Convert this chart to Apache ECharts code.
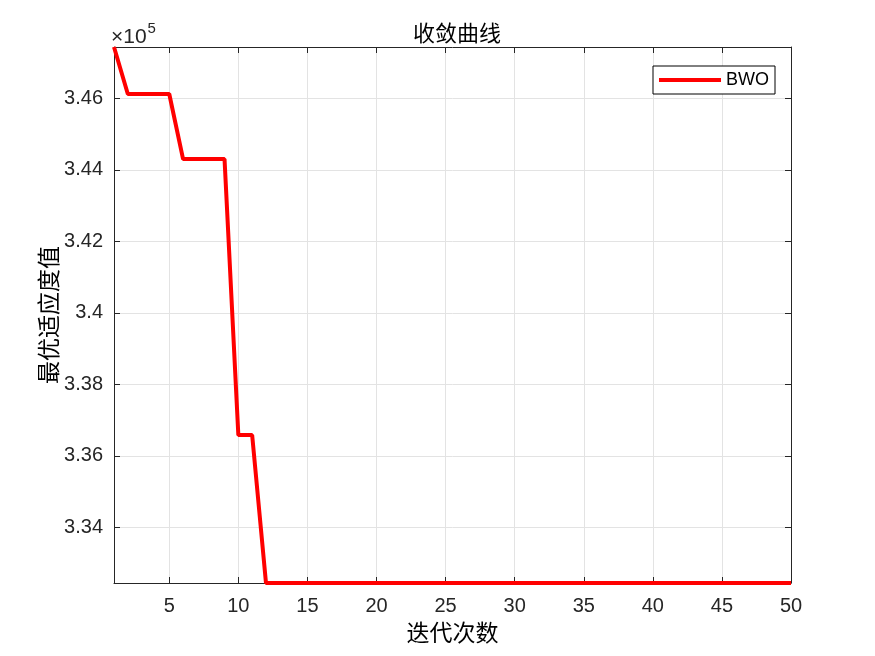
<!DOCTYPE html>
<html>
<head>
<meta charset="utf-8">
<script src="https://cdn.jsdelivr.net/npm/echarts@6/dist/echarts.min.js"></script>
<style>
html,body{margin:0;padding:0;background:#fff;}
#chart{width:875px;height:656px;}
</style>
</head>
<body>
<div id="chart"></div>
<script>
// Data
const iterations = Array.from({length: 50}, (_, i) => i + 1);
const bwoValues = [
  347435,
  346120, 346120, 346120, 346120,
  344299, 344299, 344299, 344299,
  336579, 336579,
  332442, 332442, 332442, 332442, 332442, 332442, 332442, 332442, 332442,
  332442, 332442, 332442, 332442, 332442, 332442, 332442, 332442, 332442, 332442,
  332442, 332442, 332442, 332442, 332442, 332442, 332442, 332442, 332442, 332442,
  332442, 332442, 332442, 332442, 332442, 332442, 332442, 332442, 332442, 332442
];
const xTicks = [5, 10, 15, 20, 25, 30, 35, 40, 45, 50];
const yTicks = [334000, 336000, 338000, 340000, 342000, 344000, 346000];
const titleText = '收敛曲线';
const xName = '迭代次数';
const yName = '最优适应度值';
const seriesName = 'BWO';

const axisColor = '#262626';
const gridColor = '#e3e3e3';
const cjk = '"Noto Sans CJK SC", sans-serif';
const latin = '"Liberation Sans", Arial, sans-serif';

const chart = echarts.init(document.getElementById('chart'), null, {renderer: 'canvas'});
const yMin = Math.min(...bwoValues);
const yMax = Math.max(...bwoValues);

const baseX = {
  type: 'value', min: 1, max: 50,
  axisLine: {show: true, lineStyle: {color: axisColor, width: 1}},
  axisTick: {show: true, inside: true, length: 6, customValues: xTicks, lineStyle: {color: axisColor}},
};
const baseY = {
  type: 'value', min: yMin, max: yMax,
  axisLine: {show: true, lineStyle: {color: axisColor, width: 1}},
  axisTick: {show: true, inside: true, length: 6, customValues: yTicks, lineStyle: {color: axisColor}},
};

chart.setOption({
  animation: false,
  backgroundColor: '#ffffff',
  title: {
    text: titleText, left: 452, top: 17, textAlign: 'center',
    textStyle: {fontFamily: cjk, fontSize: 22, fontWeight: 'normal', color: '#000'}
  },
  grid: {left: 114, right: 84, top: 47, bottom: 73, show: false, containLabel: false, outerBoundsMode: 'none'},
  legend: {
    data: [{name: seriesName, icon: 'rect'}], right: 100, top: 66, orient: 'vertical',
    backgroundColor: '#fff', borderColor: '#000', borderWidth: 1, borderRadius: 0,
    padding: [5, 6, 5, 6], itemWidth: 62, itemHeight: 4, itemGap: 0,
    textStyle: {fontFamily: latin, fontSize: 18, color: '#000', padding: [0, 0, 0, 0]}
  },
  xAxis: [
    Object.assign({}, baseX, {
      position: 'bottom',
      name: xName, nameLocation: 'middle', nameGap: 38, nameMoveOverlap: false,
      nameTextStyle: {fontFamily: cjk, fontSize: 23, color: '#000'},
      axisLabel: {show: true, customValues: xTicks, color: axisColor, fontFamily: latin, fontSize: 20, margin: 13},
      splitLine: {show: true, lineStyle: {color: gridColor, width: 1}}
    }),
    Object.assign({}, baseX, {
      position: 'top',
      axisLabel: {show: false},
      splitLine: {show: false}
    })
  ],
  yAxis: [
    Object.assign({}, baseY, {
      position: 'left',
      name: yName, nameLocation: 'middle', nameGap: 54, nameRotate: 90, nameMoveOverlap: false,
      nameTextStyle: {fontFamily: cjk, fontSize: 23, color: '#000'},
      axisLabel: {show: true, customValues: yTicks, color: axisColor, fontFamily: latin, fontSize: 20, margin: 11,
        formatter: v => String(+(v / 1e5).toFixed(2))},
      splitLine: {show: true, lineStyle: {color: gridColor, width: 1}}
    }),
    Object.assign({}, baseY, {
      position: 'right',
      axisLabel: {show: false},
      splitLine: {show: false}
    })
  ],
  graphic: [{
    type: 'text', left: 111, top: 21,
    style: {
      text: '{a|×10}{b|5}',
      rich: {
        a: {fontFamily: latin, fontSize: 21, fill: axisColor, verticalAlign: 'bottom'},
        b: {fontFamily: latin, fontSize: 15, fill: axisColor, verticalAlign: 'top', padding: [0, 0, 12, 1]}
      }
    }
  }],
  series: [{
    name: seriesName, type: 'line',
    data: iterations.map((x, i) => [x, bwoValues[i]]),
    symbol: 'none', showSymbol: false,
    lineStyle: {color: '#ff0000', width: 4},
    itemStyle: {color: '#ff0000'},
    z: 5
  }]
});
</script>
</body>
</html>
